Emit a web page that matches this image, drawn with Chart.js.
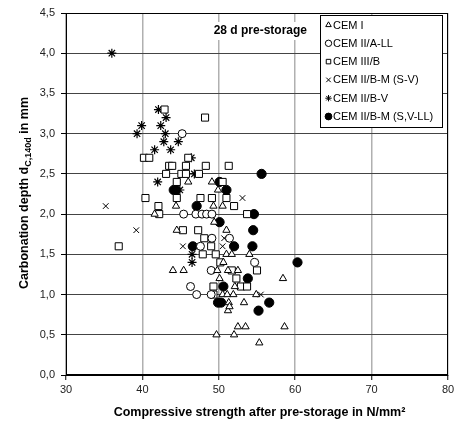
<!DOCTYPE html>
<html><head><meta charset="utf-8">
<script src="https://cdn.jsdelivr.net/npm/chart.js@4.4.1/dist/chart.umd.min.js"></script>
<style>html,body{margin:0;padding:0;background:#fff}canvas{display:block}</style>
</head><body>
<canvas id="c" width="460" height="426"></canvas>
<script>
const seriesNames = ["CEM I","CEM II/A-LL","CEM III/B","CEM II/B-M (S-V)","CEM II/B-V","CEM II/B-M (S,V-LL)"];
const xTicks = [30,40,50,60,70,80];
const yTicks = [0,0.5,1,1.5,2,2.5,3,3.5,4,4.5];
const cemI = [[46.0,2.4],[49.1,2.4],[49.9,2.3],[44.4,2.1],[49.3,2.1],[50.5,2.1],[41.6,2.0],[49.4,1.9],[44.5,1.8],[51.0,1.8],[51.0,1.5],[51.7,1.5],[54.0,1.5],[50.6,1.4],[44.0,1.3],[45.4,1.3],[49.8,1.3],[51.2,1.3],[52.5,1.3],[50.1,1.2],[58.4,1.2],[52.1,1.1],[50.5,1.0],[51.1,1.0],[51.9,1.0],[54.9,1.0],[51.3,0.9],[53.3,0.9],[51.2,0.8],[51.4,0.85],[52.5,0.6],[53.5,0.6],[58.6,0.6],[49.7,0.5],[52.0,0.5],[55.3,0.4]];
const cemIIALL = [[45.2,3.0],[45.4,2.0],[47.0,2.0],[47.8,2.0],[48.4,2.0],[49.1,2.0],[49.1,1.7],[51.4,1.7],[47.6,1.6],[54.7,1.4],[49.0,1.3],[46.3,1.1],[47.1,1.0],[49.0,1.0]];
const cemIIIB = [[42.9,3.3],[48.2,3.2],[40.2,2.7],[40.9,2.7],[46.0,2.7],[43.5,2.6],[43.9,2.6],[45.7,2.6],[48.3,2.6],[51.3,2.6],[43.1,2.5],[45.1,2.5],[45.7,2.5],[47.4,2.5],[44.5,2.4],[50.5,2.4],[40.4,2.2],[44.5,2.2],[47.6,2.2],[49.1,2.2],[51.0,2.2],[42.1,2.1],[52.0,2.1],[42.2,2.0],[53.7,2.0],[45.3,1.8],[47.3,1.8],[48.1,1.7],[49.0,1.6],[36.9,1.6],[47.9,1.5],[49.6,1.5],[50.2,1.4],[51.7,1.3],[55.0,1.3],[52.3,1.2],[49.3,1.1],[52.9,1.1],[53.7,1.1],[49.3,1.0]];
const cemIIBMSV = [[35.2,2.1],[39.2,1.8],[53.1,2.2],[47.8,2.0],[48.4,2.0],[50.7,1.7],[45.3,1.6],[50.5,1.6],[50.2,1.4],[52.3,1.2],[55.5,1.0]];
const cemIIBV = [[36.0,4.0],[42.1,3.3],[43.1,3.2],[39.9,3.1],[42.4,3.1],[39.3,3.0],[43.0,3.0],[42.8,2.9],[44.7,2.9],[41.6,2.8],[43.7,2.8],[46.4,2.7],[46.8,2.5],[42.0,2.4],[44.9,2.3],[46.5,1.5],[46.5,1.4]];
const cemIIBMSVLL = [[44.1,2.3],[44.4,2.3],[50.1,2.4],[51.0,2.3],[55.6,2.5],[47.1,2.1],[54.6,2.0],[50.1,1.9],[54.5,1.8],[46.6,1.6],[52.0,1.6],[54.4,1.6],[60.3,1.4],[53.8,1.2],[50.6,1.1],[49.9,0.9],[50.3,0.9],[56.6,0.9],[55.2,0.8]];

const FONT = "'Liberation Sans', Arial, sans-serif";
const toPts = arr => arr.map(p => ({x:p[0], y:p[1]}));
const styles = [
  {pointStyle:'triangle', radius:4.2, bg:'#fff', bw:1},
  {pointStyle:'circle', radius:4, bg:'#fff', bw:1},
  {pointStyle:'rect', radius:5, bg:'#fff', bw:1},
  {pointStyle:'crossRot', radius:4, bg:'#fff', bw:1},
  {pointStyle:'star', radius:4.5, bg:'#fff', bw:1.2},
  {pointStyle:'circle', radius:4.6, bg:'#000', bw:1}
];
const allSeries = [cemI, cemIIALL, cemIIIB, cemIIBMSV, cemIIBV, cemIIBMSVLL];
const datasets = allSeries.map((s,i) => ({
  label: seriesNames[i],
  data: toPts(s),
  pointStyle: styles[i].pointStyle,
  pointRadius: styles[i].radius,
  pointHoverRadius: styles[i].radius,
  pointBackgroundColor: styles[i].bg,
  pointBorderColor: '#000',
  pointBorderWidth: styles[i].bw,
  showLine: false
}));

const decor = {
  id: 'decor',
  afterDraw(chart) {
    const ctx = chart.ctx, ca = chart.chartArea;
    ctx.save();
    ctx.strokeStyle = '#000'; ctx.lineWidth = 1;
    ctx.strokeRect(Math.round(ca.left)+0.5, Math.round(ca.top)+0.5, Math.round(ca.right-ca.left)-1, Math.round(ca.bottom-ca.top)-1);
    // annotation title
    ctx.font = "bold 12px " + FONT;
    const t = "28 d pre-storage";
    const tw = ctx.measureText(t).width;
    const tRight = 307, tcy = 31;
    ctx.fillStyle = '#fff';
    ctx.fillRect(tRight - tw - 3, tcy - 9, tw + 6, 18);
    ctx.fillStyle = '#000';
    ctx.textAlign = 'right'; ctx.textBaseline = 'middle';
    ctx.fillText(t, tRight, tcy);
    // legend
    ctx.fillStyle = '#fff';
    ctx.fillRect(321, 15, 122, 113);
    ctx.strokeStyle = '#000';
    ctx.strokeRect(320.5, 15.5, 122, 112);
    ctx.font = "11px " + FONT;
    ctx.textAlign = 'left'; ctx.textBaseline = 'middle';
    for (let i = 0; i < seriesNames.length; i++) {
      const y = 25 + i*18.3;
      ctx.fillStyle = styles[i].bg; ctx.strokeStyle = '#000';
      Chart.helpers.drawPoint(ctx, {pointStyle: styles[i].pointStyle, radius: i===5?3.4:3.2, rotation:0, borderWidth:1}, 328.5, y);
      ctx.fillStyle = '#000';
      ctx.fillText(seriesNames[i], 333, y+0.5);
    }
    // x title
    ctx.font = "bold 12.5px " + FONT;
    ctx.textAlign = 'center'; ctx.textBaseline = 'middle';
    ctx.fillText("Compressive strength after pre-storage in N/mm\u00B2", 259.5, 413);
    // y title with subscript
    ctx.translate(25, 193);
    ctx.rotate(-Math.PI/2);
    const parts = [["Carbonation depth d", "bold 12.5px " + FONT, 0], ["C,140d", "bold 9px " + FONT, 3.5], [" in mm", "bold 12.5px " + FONT, 0]];
    let total = 0;
    parts.forEach(p => { ctx.font = p[1]; p.push(ctx.measureText(p[0]).width); total += p[3]; });
    let xx = -total/2;
    ctx.textAlign = 'left';
    parts.forEach(p => { ctx.font = p[1]; ctx.fillText(p[0], xx, p[2]); xx += p[3]; });
    ctx.restore();
  }
};

new Chart(document.getElementById('c'), {
  type: 'scatter',
  data: { datasets },
  options: {
    responsive: false,
    animation: false,
    devicePixelRatio: 1,
    layout: { padding: { top: 13, right: 12, left: 0, bottom: 0 } },
    plugins: { legend: { display: false }, tooltip: { enabled: false } },
    scales: {
      x: {
        type: 'linear', min: xTicks[0], max: xTicks[xTicks.length-1],
        afterBuildTicks: s => { s.ticks = xTicks.map(v => ({value: v})); },
        afterFit: s => { s.height = 51; },
        grid: { color: '#b0b0b0', lineWidth: 1.5, tickColor: '#000', tickLength: 5, tickWidth: 1 },
        border: { color: '#000', width: 1 },
        ticks: { font: { family: FONT, size: 11 }, color: '#222', padding: 3, maxRotation: 0 },
        title: { display: false }
      },
      y: {
        type: 'linear', min: yTicks[0], max: yTicks[yTicks.length-1],
        afterBuildTicks: s => { s.ticks = yTicks.map(v => ({value: v})); },
        afterFit: s => { s.width = 66; },
        grid: { color: '#444', lineWidth: 1, tickColor: '#000', tickLength: 5, tickWidth: 1 },
        border: { color: '#000', width: 1 },
        ticks: { font: { family: FONT, size: 11 }, color: '#222', padding: 6,
          callback: v => Number(v).toFixed(1).replace('.', ',') },
        title: { display: false }
      }
    }
  },
  plugins: [decor]
});
</script>
</body></html>
